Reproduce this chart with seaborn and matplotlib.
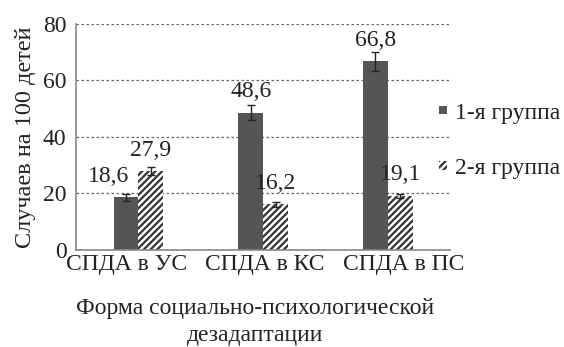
import matplotlib
matplotlib.use("Agg")
import matplotlib.pyplot as plt
import matplotlib.transforms as mtransforms
import seaborn as sns
import pandas as pd
import numpy as np

categories = ["СПДА в УС", "СПДА в КС", "СПДА в ПС"]
groups = ["1-я группа", "2-я группа"]
group1_values = [18.6, 48.6, 66.8]
group2_values = [27.9, 16.2, 19.1]
group1_errors = [1.2, 2.7, 3.4]
group2_errors = [1.4, 0.9, 0.8]
value_labels_1 = ["18,6", "48,6", "66,8"]
value_labels_2 = ["27,9", "16,2", "19,1"]
y_ticks = [0, 20, 40, 60, 80]

df = pd.DataFrame({
    "cat": categories * 2,
    "group": [groups[0]] * 3 + [groups[1]] * 3,
    "value": group1_values + group2_values,
})

sns.set_theme(style="white")
plt.rcParams["font.family"] = ["Liberation Serif", "DejaVu Serif"]
plt.rcParams["hatch.color"] = "#333333"
plt.rcParams["hatch.linewidth"] = 1.6

FS = 17
TXT = "#222222"

fig = plt.figure(figsize=(5.64, 3.47), dpi=100)
ax = fig.add_axes([0.135, 0.28, 0.663, 0.651])

sns.barplot(data=df, x="cat", y="value", hue="group", order=categories,
            hue_order=groups, palette=["#555555", "#ffffff"], width=0.4,
            errorbar=None, ax=ax, linewidth=0, legend=False)

conts = ax.containers
for p in conts[1]:
    p.set_hatch("/////")
    p.set_edgecolor("#333333")
    p.set_linewidth(0)

label_dx = [[-0.14, 0, 0], [0, 0, 0]]
for gi, (cont, errs, labs) in enumerate([(conts[0], group1_errors, value_labels_1),
                                          (conts[1], group2_errors, value_labels_2)]):
    for i, (p, e, lab) in enumerate(zip(cont, errs, labs)):
        xc = p.get_x() + p.get_width() / 2
        h = p.get_height()
        ax.errorbar(xc, h, yerr=e, color="#222222", capsize=3,
                    elinewidth=1, capthick=1)
        ax.text(xc + label_dx[gi][i], h + 5.5, lab, ha="center", va="baseline",
                fontsize=FS, color=TXT)

ax.set_ylim(0, 80)
ax.set_xlim(-0.5, 2.5)
ax.set_yticks(y_ticks)
ax.yaxis.grid(True, linestyle=(0, (2, 2)), color="#666666", linewidth=0.9)
ax.set_axisbelow(True)
for s in ["top", "right"]:
    ax.spines[s].set_visible(False)
ax.spines["left"].set_color("#888888")
ax.spines["bottom"].set_color("#888888")
ax.spines["left"].set_linewidth(1.2)
ax.spines["bottom"].set_linewidth(1.2)
ax.tick_params(axis="y", length=0, labelsize=FS, colors=TXT, pad=7)
ax.tick_params(axis="x", length=0, labelsize=FS, colors=TXT, pad=3)
ax.set_xlabel("")
ax.set_ylabel("Случаев на 100 детей", fontsize=17.5, color=TXT, labelpad=5)

# spread the category labels slightly, as in the reference
tick_shift_px = [-12, 2, 16]
for lbl, dx in zip(ax.get_xticklabels(), tick_shift_px):
    lbl.set_transform(lbl.get_transform() +
                      mtransforms.ScaledTranslation(dx / 100, 0, fig.dpi_scale_trans))

fig.text(255 / 564, 1 - 322 / 347, "Форма социально-психологической\nдезадаптации",
         ha="center", va="center", fontsize=FS, color=TXT,
         linespacing=1.35)

handles = [conts[0][0], conts[1][0]]
leg = fig.legend(handles, groups, loc="center left",
                 bbox_to_anchor=(439 / 564, 1 - 141 / 347),
                 frameon=False, fontsize=FS, handlelength=0.32, handleheight=0.15,
                 handletextpad=0.35, labelspacing=1.45, labelcolor=TXT,
                 borderpad=0, borderaxespad=0)

fig.savefig("out.png", dpi=100)
